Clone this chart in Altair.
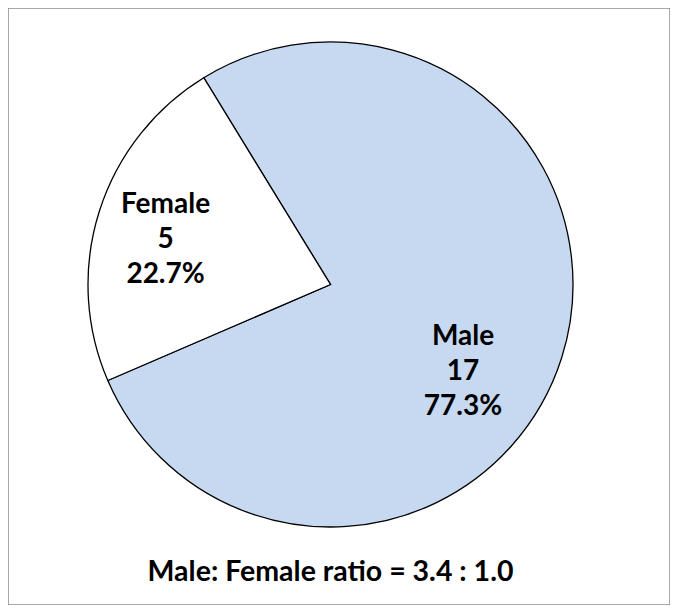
import math
import altair as alt
import pandas as pd

categories = ["Male", "Female"]
counts = [17, 5]
percents = ["77.3%", "22.7%"]
colors = ["#C6D9F1", "#FFFFFF"]
order = [1, 2]
title_text = "Male: Female ratio = 3.4 : 1.0"

df = pd.DataFrame({"category": categories, "count": counts, "pct": percents, "order": order})
df["label"] = df["category"] + "\n" + df["count"].astype(str) + "\n" + df["pct"]
total = sum(counts)

start = -31.5 * math.pi / 180
cx, cy = 322.5, 276.5
FONT = "Lato"

theta_scale = alt.Scale(domain=[0, total], range=[start, start + 2 * math.pi])

base = alt.Chart(df).transform_stack(
    stack="count", groupby=[], as_=["v0", "v1"], sort=[alt.SortField("order")]
).transform_calculate(mid="(datum.v0 + datum.v1) / 2")

pie = base.mark_arc(outerRadius=242.5, stroke="black", strokeWidth=1.3).encode(
    theta=alt.Theta("v0:Q", scale=theta_scale),
    theta2="v1:Q",
    color=alt.Color("category:N", scale=alt.Scale(domain=categories, range=colors), legend=None),
    x=alt.value(cx),
    y=alt.value(cy),
)

def label_layer(cat, radius, dx, dy):
    return base.transform_filter(alt.datum.category == cat).mark_text(
        radius=radius, dx=dx, dy=dy, lineBreak="\n", lineHeight=35,
        font=FONT, fontSize=28, fontWeight="bold", color="black",
        align="center", baseline="middle",
    ).encode(
        theta=alt.Theta("mid:Q", scale=theta_scale),
        text="label:N",
        x=alt.value(cx),
        y=alt.value(cy),
    )

fem = label_layer("Female", 172, -1, -28)
male = label_layer("Male", 139, 0, 10)

title = alt.Chart(pd.DataFrame({"t": [title_text]})).mark_text(
    font=FONT, fontSize=28.5, fontWeight="bold", color="black",
    align="center", baseline="alphabetic",
).encode(text="t:N", x=alt.value(cx), y=alt.value(573))

chart = alt.layer(pie, fem, male, title).properties(
    width=662, height=597, padding=0
).configure_view(stroke="#8c8c8c", strokeWidth=1.5)

chart.save("out.html", embed_options={"renderer": "svg", "actions": False})
